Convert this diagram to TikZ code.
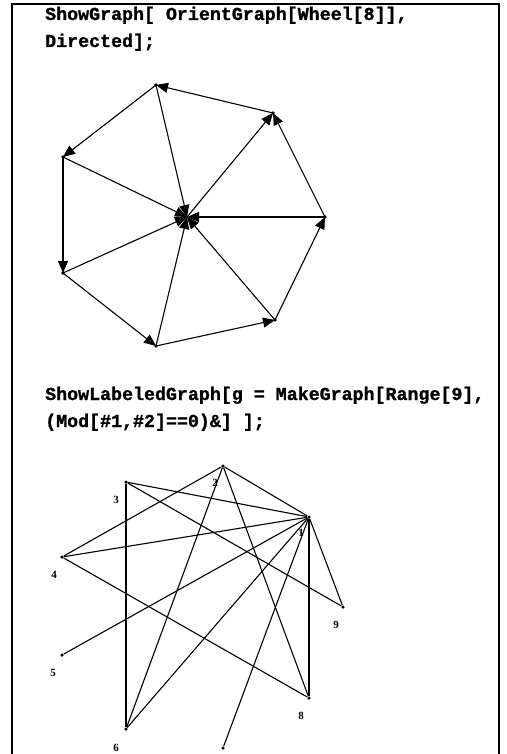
\documentclass[tikz,border=0pt]{standalone}
\usepackage{fontspec}
\setmainfont{Liberation Serif}
\setmonofont{Liberation Mono}[BoldFeatures={FakeBold=1.2}]
\usetikzlibrary{arrows.meta}
\begin{document}
\begin{tikzpicture}[x=1pt,y=-1pt,
  code/.style={font=\ttfamily\bfseries\fontsize{18.3}{22}\selectfont, anchor=base west, inner sep=0pt},
  frame/.style={line width=1.6pt},
  wedge/.style={line width=1.1pt, -{Triangle[length=12pt,width=10pt]}},
  gdot/.style={circle, fill, inner sep=0pt, minimum size=3.5pt},
  gedge/.style={line width=1.1pt},
  lab/.style={font=\bfseries\fontsize{11}{11}\selectfont, inner sep=0pt}
]
\useasboundingbox (0,0) rectangle (506,754);
\draw[frame] (12,754) -- (12,4) -- (499,4) -- (499,754);

\node[code] (t1) at (45,20) {ShowGraph[ OrientGraph[Wheel[8]],};
\node[code] (t2) at (45,47) {Directed];};
\node[code] (t3) at (45,400) {ShowLabeledGraph[g = MakeGraph[Range[9],};
\node[code] (t4) at (45,427) {(Mod[\#1,\#2]==0)\&] ];};

% wheel
\coordinate (c) at (187,217);
\coordinate (v1) at (156,85);
\coordinate (v2) at (273,113);
\coordinate (v3) at (325,217);
\coordinate (v4) at (275,320);
\coordinate (v5) at (156,346);
\coordinate (v6) at (63,273);
\coordinate (v7) at (63,157);
\foreach \v in {v1,v2,v3,v4,v5,v6,v7} \fill (\v) circle (1.8);
\draw[wedge] (v2) -- (v1);
\draw[wedge] (v1) -- (v7);
\draw[wedge] (v7) -- (v6);
\draw[wedge] (v6) -- (v5);
\draw[wedge] (v5) -- (v4);
\draw[wedge] (v4) -- (v3);
\draw[wedge] (v3) -- (v2);
\draw[wedge] (c) -- (v2);
\foreach \v in {v1,v3,v4,v5,v6,v7} \draw[wedge] (\v) -- (c);

% divisibility graph
\node[gdot] (n1) at (309,517) {};
\node[gdot] (n2) at (223,466) {};
\node[gdot] (n3) at (126,482) {};
\node[gdot] (n4) at (62,557) {};
\node[gdot] (n5) at (62,655) {};
\node[gdot] (n6) at (126,729) {};
\node[gdot] (n7) at (223,748) {};
\node[gdot] (n8) at (309,698) {};
\node[gdot] (n9) at (343,607) {};
\node[lab] (l1) at (301,533) {1};
\node[lab] (l2) at (215,483) {2};
\node[lab] (l3) at (116,500) {3};
\node[lab] (l4) at (54,575) {4};
\node[lab] (l5) at (53,673) {5};
\node[lab] (l6) at (116,748) {6};
\node[lab] (l8) at (301,716) {8};
\node[lab] (l9) at (336,625) {9};
\foreach \a/\b in {1/2,1/3,1/4,1/5,1/6,1/7,1/8,1/9,2/4,2/6,2/8,3/6,3/9,4/8}
  \draw[gedge] (n\a) -- (n\b);
\end{tikzpicture}
\end{document}
